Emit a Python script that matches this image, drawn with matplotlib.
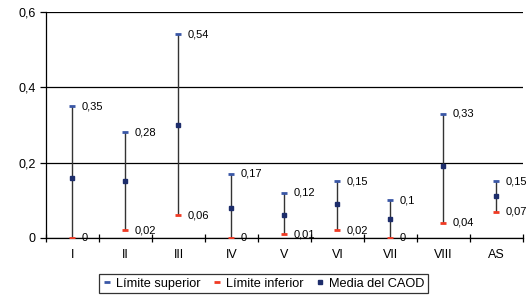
import matplotlib
matplotlib.use('Agg')
import matplotlib.pyplot as plt
import numpy as np

plt.rcParams['font.family'] = ['Liberation Sans', 'DejaVu Sans']

# Data
categories = ['I', 'II', 'III', 'IV', 'V', 'VI', 'VII', 'VIII', 'AS']
upper = [0.35, 0.28, 0.54, 0.17, 0.12, 0.15, 0.10, 0.33, 0.15]
lower = [0.00, 0.02, 0.06, 0.00, 0.01, 0.02, 0.00, 0.04, 0.07]
mean = [0.16, 0.15, 0.30, 0.08, 0.06, 0.09, 0.05, 0.19, 0.11]


def fmt(v):
    s = ('%.2f' % v).rstrip('0').rstrip('.')
    return s.replace('.', ',')


x = np.arange(len(categories))

fig = plt.figure(figsize=(5.27, 2.97), dpi=100)
ax = fig.add_axes([0.0873, 0.199, 0.9047, 0.761])

# Range lines and markers
ax.vlines(x, lower, upper, color='#333333', lw=1, zorder=2)
ax.plot(x, upper, ls='none', marker='_', ms=5, mew=2, color='#3a57a6',
        label='Límite superior', zorder=3)
ax.plot(x, lower, ls='none', marker='_', ms=5, mew=2, color='#f03a24',
        label='Límite inferior', zorder=3)
ax.plot(x, mean, ls='none', marker='s', ms=2.8, color='#1d2d6b',
        label='Media del CAOD', zorder=4)

for xi, u, l in zip(x, upper, lower):
    ax.text(xi + 0.18, u, fmt(u), fontsize=8, va='center', ha='left')
    ax.text(xi + 0.18, l, fmt(l), fontsize=8, va='center', ha='left')

ax.set_xlim(-0.5, len(categories) - 0.5)
ax.set_ylim(0, 0.6)
ax.set_yticks([0, 0.2, 0.4, 0.6])
ax.set_yticklabels(['0', '0,2', '0,4', '0,6'], fontsize=9)
ax.yaxis.grid(True, color='black', lw=0.9)
ax.set_axisbelow(True)

# category labels at centers, ticks at boundaries
ax.set_xticks(np.arange(-0.5, len(categories)), minor=False)
ax.set_xticklabels([])
ax.set_xticks(x, minor=True)
ax.set_xticklabels(categories, minor=True, fontsize=9)
ax.tick_params(axis='x', which='major', direction='inout', length=6, width=0.9)
ax.tick_params(axis='x', which='minor', length=0, pad=8)
ax.tick_params(axis='y', direction='out', length=4, width=0.9)

for side in ['top', 'right']:
    ax.spines[side].set_visible(False)
ax.spines['left'].set_linewidth(0.9)
ax.spines['bottom'].set_linewidth(0.9)

leg = fig.legend(loc='center', bbox_to_anchor=(0.5, 0.045), ncol=3,
                 fontsize=9.2, frameon=True, fancybox=False, edgecolor='black',
                 handlelength=0.6, handletextpad=0.4, columnspacing=1.0,
                 borderpad=0.3, markerscale=1)
leg.get_frame().set_linewidth(0.9)

fig.savefig('out.png', dpi=100)
